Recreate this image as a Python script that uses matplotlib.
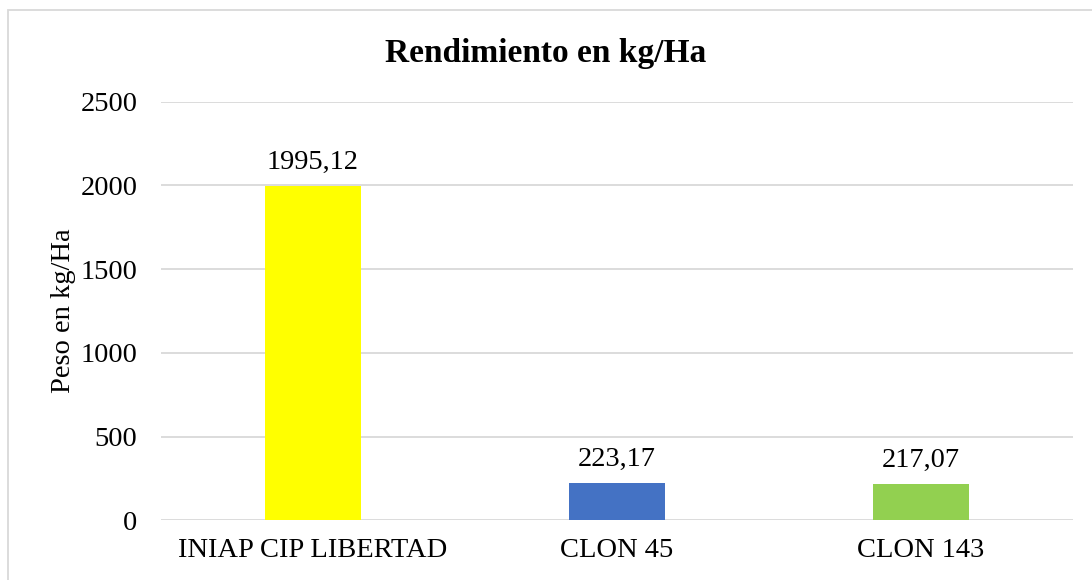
import matplotlib
matplotlib.use('Agg')
import matplotlib.pyplot as plt
from matplotlib.patches import Rectangle

plt.rcParams['font.family'] = ['Liberation Serif', 'DejaVu Serif']

# datos
variedades = ['INIAP CIP LIBERTAD', 'CLON 45', 'CLON 143']
rendimiento = [1995.12, 223.17, 217.07]
etiquetas = ['1995,12', '223,17', '217,07']
colores = ['#FFFF00', '#4472C4', '#92D050']

fig = plt.figure(figsize=(10.92, 5.8), dpi=100)
ax = fig.add_axes([0.1474, 0.1029, 0.8352, 0.7218])

x = range(len(variedades))
ax.bar(x, rendimiento, width=0.316, color=colores, zorder=3)
for i, (v, t) in enumerate(zip(rendimiento, etiquetas)):
    ax.annotate(t, (i, v), xytext=(0, 8), textcoords='offset points',
                ha='center', va='bottom', fontsize=20.5)

ax.set_xlim(-0.5, len(variedades) - 0.5)
ax.set_ylim(0, 2500)
ax.set_yticks(range(0, 2501, 500))
ax.set_xticks(list(x))
ax.set_xticklabels(variedades)
ax.tick_params(axis='both', length=0, labelsize=20.5)
ax.tick_params(axis='y', pad=17)
ax.tick_params(axis='x', pad=13)
ax.yaxis.grid(True, color='#D9D9D9', linewidth=1.3, zorder=0)
for s in ax.spines.values():
    s.set_visible(False)

ax.set_ylabel('Peso en kg/Ha', fontsize=20.5, labelpad=3)
fig.text(0.5, 0.907, 'Rendimiento en kg/Ha', ha='center', va='center',
         fontsize=24, fontweight='bold')

# borde del grafico
fig.patches.append(Rectangle((8 / 1092, -0.1), 1.2, 1.1 - 10 / 580,
                             transform=fig.transFigure, fill=False,
                             edgecolor='#D9D9D9', linewidth=1.3))

fig.savefig('out.png', dpi=100)
